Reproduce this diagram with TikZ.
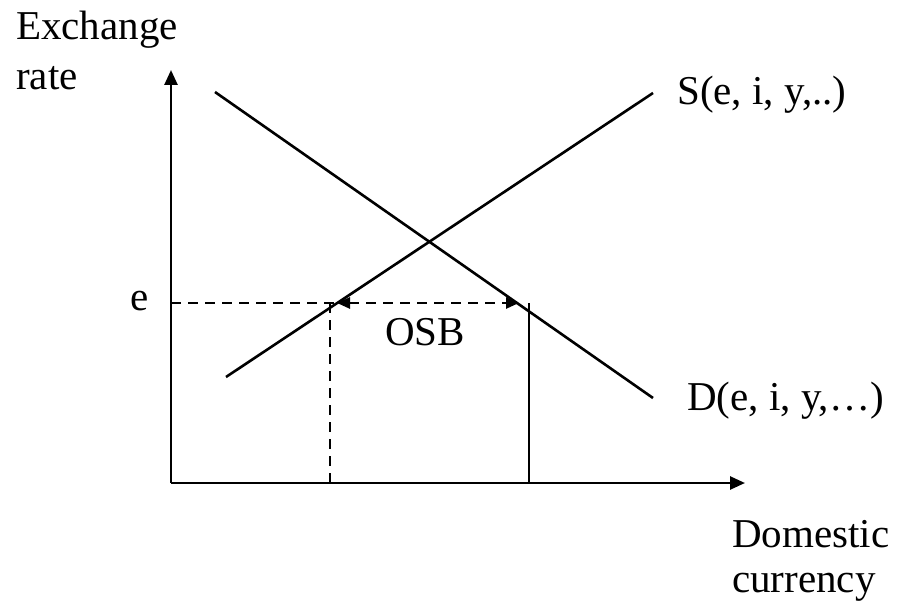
\documentclass[tikz,border=0pt]{standalone}
\usepackage{fontspec}
\setmainfont{Liberation Serif}
\usetikzlibrary{arrows.meta}
\begin{document}
\begin{tikzpicture}[x=1pt,y=-1pt,
  curve/.style={line width=2.6pt},
  axis/.style={line width=2.6pt,-{Triangle[length=15pt,width=13pt]}},
  guide/.style={line width=2.6pt,dash pattern=on 10pt off 7pt},
  span/.style={line width=2.6pt,dash pattern=on 10pt off 7pt,{Triangle[length=13pt,width=11pt]}-{Triangle[length=13pt,width=11pt]}},
  lbl/.style={anchor=base west,inner sep=0pt,font=\fontsize{41}{48}\selectfont}]
\useasboundingbox (0,0) rectangle (908,610);
% axes
\coordinate (O) at (171,483);
\coordinate (ytop) at (171,70);
\coordinate (xend) at (745,483);
\draw[axis] (O) -- (ytop);
\draw[axis] (O) -- (xend);
% demand and supply
\coordinate (d1) at (215,92);
\coordinate (d2) at (653,398);
\coordinate (s1) at (226,377);
\coordinate (s2) at (653,93);
\draw[curve] (d1) -- (d2);
\draw[curve] (s1) -- (s2);
% guides
\coordinate (ey) at (171,303);
\coordinate (qs) at (330,303);
\coordinate (qsb) at (330,483);
\coordinate (qd) at (529,303);
\coordinate (qdb) at (529,483);
\coordinate (al) at (337,303);
\coordinate (ar) at (519,303);
\draw[guide] (ey) -- (al);
\draw[guide] (qs) -- (qsb);
\draw[curve] (qd) -- (qdb);
\draw[span] (al) -- (ar);
% labels
\node[lbl] (ylab1) at (16,40) {Exchange};
\node[lbl] (ylab2) at (16,89) {rate};
\node[lbl] (elab) at (130,310) {e};
\node[lbl] (osb) at (385,345) {OSB};
\node[lbl] (slab) at (677,104) {S(e, i, y,..)};
\node[lbl] (dlab) at (687,410) {D(e, i, y,…)};
\node[lbl] (xlab1) at (732,547) {Domestic};
\node[lbl] (xlab2) at (732,592) {currency};
\end{tikzpicture}
\end{document}
